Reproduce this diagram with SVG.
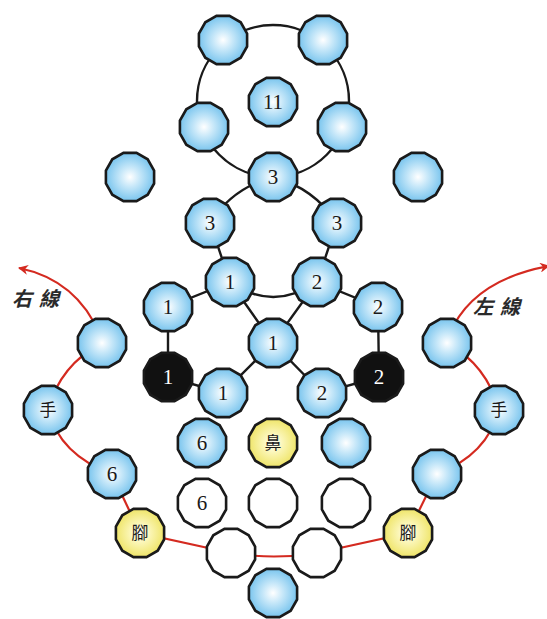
<svg xmlns="http://www.w3.org/2000/svg" width="547" height="619" viewBox="0 0 547 619">
<defs>
<radialGradient id="gb" cx="50%" cy="50%" r="50%">
<stop offset="0" stop-color="#ffffff"/>
<stop offset="0.4" stop-color="#c8e8f9"/>
<stop offset="1" stop-color="#7ac5ee"/>
</radialGradient>
<radialGradient id="gy" cx="50%" cy="50%" r="50%">
<stop offset="0" stop-color="#ffffff"/>
<stop offset="0.4" stop-color="#fbf6b8"/>
<stop offset="1" stop-color="#efe56a"/>
</radialGradient>
<polygon id="oct" points="24.1,6.5 17.7,17.7 6.5,24.1 -6.5,24.1 -17.7,17.7 -24.1,6.5 -24.1,-6.5 -17.7,-17.7 -6.5,-24.1 6.5,-24.1 17.7,-17.7 24.1,-6.5"/>
<marker id="ah" viewBox="0 0 10 10" refX="9" refY="5" markerWidth="10" markerHeight="10" markerUnits="userSpaceOnUse" orient="auto">
<path d="M0,0 L10,5 L0,10 L3,5 Z" fill="#d42a20"/>
</marker>
</defs>
<style>
.b use{fill:url(#gb);stroke:#1a1a1a;stroke-width:2.6}
.y use{fill:url(#gy);stroke:#1a1a1a;stroke-width:2.6}
.w use{fill:#ffffff;stroke:#1a1a1a;stroke-width:2.6}
.k use{fill:#111111;stroke:#1a1a1a;stroke-width:2.6}
.n{font-family:"Liberation Serif",serif;font-size:21px;text-anchor:middle;fill:#1a1a1a}
.k .n{fill:#ffffff}
.c{font-family:"Noto Sans CJK TC","Noto Sans CJK SC",sans-serif;font-size:17px;text-anchor:middle;fill:#1a1a1a}
.lbl{font-family:"Noto Sans CJK TC","Noto Sans CJK SC",sans-serif;font-size:20px;font-weight:bold;font-style:italic;fill:#2a2a2a;letter-spacing:7px}
.bl{fill:none;stroke:#1a1a1a;stroke-width:2.4}
.rd{fill:none;stroke:#d42a20;stroke-width:2.2}
</style>
<g id="connectors">
<circle class="bl" cx="273" cy="101" r="76"/>
<path class="bl" d="M273,177 Q232,188 210,223 L230,282 L168,307 L168,377 L223,393 L273,343 L322,393 L379,377 L378,307 L317,282 L337,223 Q314,188 273,177"/>
<path class="bl" d="M230,282 Q273,312 317,282 M230,282 L273,343 L317,282"/>
<path class="rd" d="M102,343 Q60,365 48,410 Q60,455 112,474 L140,533 L231,553 Q274,560 317,553 L408,533 L437,474 Q487,455 499,410 Q487,365 447,343"/>
<path class="rd" d="M100,335 Q77,280 19,268" marker-end="url(#ah)"/>
<path class="rd" d="M449,335 Q472,280 549,266" marker-end="url(#ah)"/>
</g>
<text class="lbl" x="12" y="306">右線</text>
<text class="lbl" x="473" y="314">左線</text>
<g id="n-top-l" class="b" transform="translate(223,40)"><use href="#oct"/></g>
<g id="n-top-r" class="b" transform="translate(323,40)"><use href="#oct"/></g>
<g id="n-11" class="b" transform="translate(273,102)"><use href="#oct"/><text class="n" y="7">11</text></g>
<g id="n-mid-l" class="b" transform="translate(204,127)"><use href="#oct"/></g>
<g id="n-mid-r" class="b" transform="translate(342,127)"><use href="#oct"/></g>
<g id="n-far-l" class="b" transform="translate(130,177)"><use href="#oct"/></g>
<g id="n-far-r" class="b" transform="translate(418,177)"><use href="#oct"/></g>
<g id="n-3" class="b" transform="translate(273,177)"><use href="#oct"/><text class="n" y="7">3</text></g>
<g id="n-3l" class="b" transform="translate(210,223)"><use href="#oct"/><text class="n" y="7">3</text></g>
<g id="n-3r" class="b" transform="translate(337,223)"><use href="#oct"/><text class="n" y="7">3</text></g>
<g id="n-1u" class="b" transform="translate(230,282)"><use href="#oct"/><text class="n" y="7">1</text></g>
<g id="n-2u" class="b" transform="translate(317,282)"><use href="#oct"/><text class="n" y="7">2</text></g>
<g id="n-1l" class="b" transform="translate(168,307)"><use href="#oct"/><text class="n" y="7">1</text></g>
<g id="n-2r" class="b" transform="translate(378,307)"><use href="#oct"/><text class="n" y="7">2</text></g>
<g id="n-1c" class="b" transform="translate(273,343)"><use href="#oct"/><text class="n" y="7">1</text></g>
<g id="n-k1" class="k" transform="translate(168,377)"><use href="#oct"/><text class="n" y="7">1</text></g>
<g id="n-k2" class="k" transform="translate(379,377)"><use href="#oct"/><text class="n" y="7">2</text></g>
<g id="n-1d" class="b" transform="translate(223,393)"><use href="#oct"/><text class="n" y="7">1</text></g>
<g id="n-2d" class="b" transform="translate(322,393)"><use href="#oct"/><text class="n" y="7">2</text></g>
<g id="n-rl" class="b" transform="translate(102,343)"><use href="#oct"/></g>
<g id="n-rr" class="b" transform="translate(447,343)"><use href="#oct"/></g>
<g id="n-hand-l" class="b" transform="translate(48,410)"><use href="#oct"/><text class="c" y="6">手</text></g>
<g id="n-hand-r" class="b" transform="translate(499,410)"><use href="#oct"/><text class="c" y="6">手</text></g>
<g id="n-6a" class="b" transform="translate(202,443)"><use href="#oct"/><text class="n" y="7">6</text></g>
<g id="n-nose" class="y" transform="translate(273,443)"><use href="#oct"/><text class="c" y="6">鼻</text></g>
<g id="n-b3" class="b" transform="translate(346,443)"><use href="#oct"/></g>
<g id="n-6l" class="b" transform="translate(112,474)"><use href="#oct"/><text class="n" y="7">6</text></g>
<g id="n-b4" class="b" transform="translate(437,474)"><use href="#oct"/></g>
<g id="n-6w" class="w" transform="translate(202,503)"><use href="#oct"/><text class="n" y="7">6</text></g>
<g id="n-w2" class="w" transform="translate(273,503)"><use href="#oct"/></g>
<g id="n-w3" class="w" transform="translate(346,503)"><use href="#oct"/></g>
<g id="n-foot-l" class="y" transform="translate(140,533)"><use href="#oct"/><text class="c" y="6">腳</text></g>
<g id="n-foot-r" class="y" transform="translate(408,533)"><use href="#oct"/><text class="c" y="6">腳</text></g>
<g id="n-w4" class="w" transform="translate(231,553)"><use href="#oct"/></g>
<g id="n-w5" class="w" transform="translate(317,553)"><use href="#oct"/></g>
<g id="n-bottom" class="b" transform="translate(273,593)"><use href="#oct"/></g>
</svg>
